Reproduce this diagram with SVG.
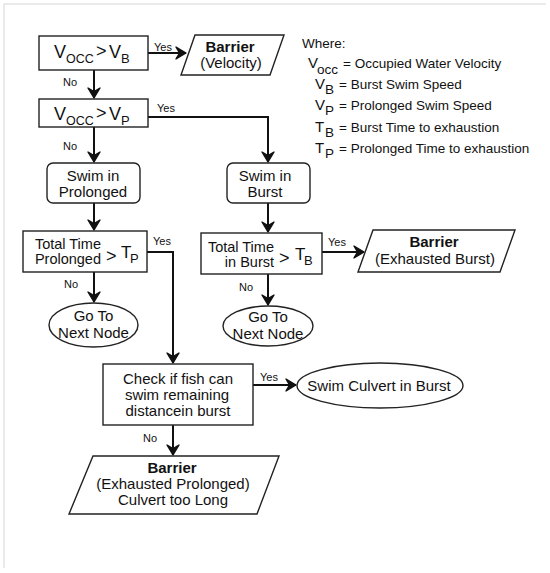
<svg xmlns="http://www.w3.org/2000/svg" width="550" height="573" viewBox="0 0 550 573">
<defs>
<marker id="ah" markerUnits="userSpaceOnUse" markerWidth="20" markerHeight="20" refX="0" refY="0" orient="auto" overflow="visible">
<path d="M0,0 L-10,-6 L-6.5,0 L-10,6 Z" fill="#111" stroke="#111" stroke-width="1.4" stroke-linejoin="round"/>
</marker>
<style>
text{font-family:"Liberation Sans",Arial,sans-serif;fill:#111}
.t{font-size:15px;text-anchor:middle}
.b{font-weight:bold}
.lab{font-size:11px}
.lg{font-size:13.5px}
.r{font-size:14.5px;text-anchor:end}
.sh{fill:#fff;stroke:#222;stroke-width:1.4}
.c{fill:none;stroke:#111;stroke-width:2;marker-end:url(#ah)}
</style>
</defs>
<rect width="550" height="573" fill="#fff"/>
<polyline points="4,568 4,4 546,4" fill="none" stroke="#e4e4e4" stroke-width="1.5"/>

<g id="connectors">
<path class="c" d="M148,53 H186"/>
<path class="c" d="M94,70 V98"/>
<path class="c" d="M148,117 H268 V162"/>
<path class="c" d="M94,127 V162"/>
<path class="c" d="M94,203 V230"/>
<path class="c" d="M147,252 H173 V363"/>
<path class="c" d="M94,272 V302"/>
<path class="c" d="M268,203 V232"/>
<path class="c" d="M322,252 H364"/>
<path class="c" d="M268,274 V305"/>
<path class="c" d="M253,385 H296"/>
<path class="c" d="M173,425 V455"/>
<text class="lab" x="154" y="51">Yes</text>
<text class="lab" x="63" y="86">No</text>
<text class="lab" x="157" y="112">Yes</text>
<text class="lab" x="63" y="150">No</text>
<text class="lab" x="153" y="245">Yes</text>
<text class="lab" x="64" y="288">No</text>
<text class="lab" x="328" y="246">Yes</text>
<text class="lab" x="239" y="291">No</text>
<text class="lab" x="260" y="381">Yes</text>
<text class="lab" x="143" y="442">No</text>
</g>

<g id="dec-vb">
<rect class="sh" x="39" y="36" width="109" height="34"/>
<text><tspan x="54" y="58" font-size="18">V</tspan><tspan x="66" y="63" font-size="12.5">OCC</tspan><tspan x="96" y="57" font-size="18">&gt;</tspan><tspan x="109" y="58" font-size="18">V</tspan><tspan x="121" y="63" font-size="13">B</tspan></text>
</g>

<g id="barrier-velocity">
<polygon class="sh" points="195,35 284,35 270,75 181,75"/>
<text class="t b" x="230" y="52">Barrier</text>
<text class="t" x="231" y="68">(Velocity)</text>
</g>

<g id="dec-vp">
<rect class="sh" x="39" y="99" width="109" height="28"/>
<text><tspan x="54" y="120" font-size="18">V</tspan><tspan x="66" y="125" font-size="12.5">OCC</tspan><tspan x="96" y="119" font-size="18">&gt;</tspan><tspan x="109" y="120" font-size="18">V</tspan><tspan x="121" y="125" font-size="13">P</tspan></text>
</g>

<g id="swim-prolonged">
<rect class="sh" x="47" y="163" width="93" height="40" rx="6"/>
<text class="t" x="93" y="181">Swim in</text>
<text class="t" x="93" y="197">Prolonged</text>
</g>

<g id="swim-burst">
<rect class="sh" x="227" y="163" width="83" height="40" rx="6"/>
<text class="t" x="265" y="181">Swim in</text>
<text class="t" x="265" y="197">Burst</text>
</g>

<g id="dec-tp">
<rect class="sh" x="23" y="231" width="124" height="41"/>
<text class="r" x="101" y="249">Total Time</text>
<text class="r" x="101" y="264">Prolonged</text>
<text><tspan x="106" y="262" font-size="18">&gt;</tspan><tspan x="121" y="258" font-size="17">T</tspan><tspan x="130" y="263" font-size="13">P</tspan></text>
</g>

<g id="dec-tb">
<rect class="sh" x="201" y="233" width="121" height="41"/>
<text class="r" x="274" y="252">Total Time</text>
<text class="r" x="274" y="267">in Burst</text>
<text><tspan x="279" y="264" font-size="18">&gt;</tspan><tspan x="295" y="260" font-size="17">T</tspan><tspan x="304" y="265" font-size="13">B</tspan></text>
</g>

<g id="barrier-burst">
<polygon class="sh" points="373,230 515,230 500,272 358,272"/>
<text class="t b" x="434" y="247">Barrier</text>
<text class="t" x="435" y="264">(Exhausted Burst)</text>
</g>

<g id="next-node-1">
<ellipse class="sh" cx="93.5" cy="325" rx="44.5" ry="22"/>
<text class="t" x="93.5" y="321">Go To</text>
<text class="t" x="93.5" y="338">Next Node</text>
</g>

<g id="next-node-2">
<ellipse class="sh" cx="268" cy="326" rx="45" ry="20"/>
<text class="t" x="268" y="322">Go To</text>
<text class="t" x="268" y="339">Next Node</text>
</g>

<g id="check-burst">
<rect class="sh" x="103" y="364" width="150" height="61"/>
<text class="t" x="178" y="384">Check if fish can</text>
<text class="t" x="177" y="400">swim remaining</text>
<text class="t" x="178" y="416">distancein burst</text>
</g>

<g id="swim-culvert">
<ellipse class="sh" cx="380" cy="385.5" rx="83" ry="22.5"/>
<text class="t" x="379" y="391">Swim Culvert in Burst</text>
</g>

<g id="barrier-prolonged">
<polygon class="sh" points="93,456 279,456 257,514 69,514"/>
<text class="t b" x="172" y="473">Barrier</text>
<text class="t" x="173" y="489">(Exhausted Prolonged)</text>
<text class="t" x="173" y="505">Culvert too Long</text>
</g>

<g id="legend">
<text class="lg" x="302" y="48">Where:</text>
<text class="lg"><tspan x="308" y="68" font-size="15">V</tspan><tspan x="317" y="74" font-size="13.5">occ</tspan><tspan x="343" y="68">= Occupied Water Velocity</tspan></text>
<text class="lg"><tspan x="315" y="89" font-size="15">V</tspan><tspan x="325" y="94" font-size="13.5">B</tspan><tspan x="339" y="89">= Burst Swim Speed</tspan></text>
<text class="lg"><tspan x="315" y="110" font-size="15">V</tspan><tspan x="325" y="115" font-size="13.5">P</tspan><tspan x="339" y="110">= Prolonged Swim Speed</tspan></text>
<text class="lg"><tspan x="315" y="132" font-size="15">T</tspan><tspan x="325" y="137" font-size="13.5">B</tspan><tspan x="339" y="132">= Burst Time to exhaustion</tspan></text>
<text class="lg"><tspan x="315" y="153" font-size="15">T</tspan><tspan x="325" y="158" font-size="13.5">P</tspan><tspan x="339" y="153">= Prolonged Time to exhaustion</tspan></text>
</g>
</svg>
